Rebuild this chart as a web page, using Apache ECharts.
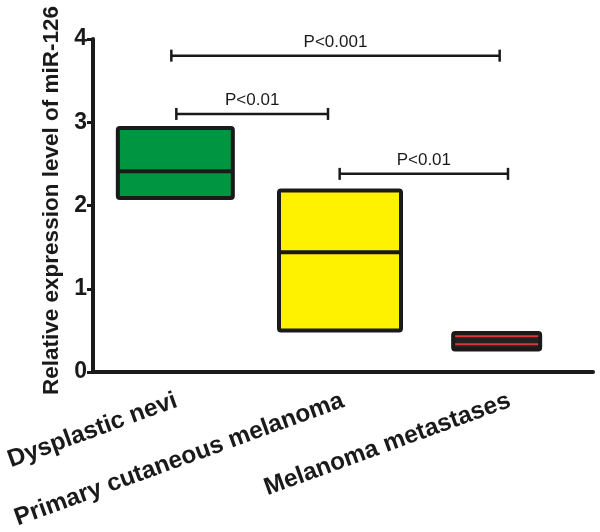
<!DOCTYPE html>
<html><head><meta charset="utf-8">
<script src="https://cdn.jsdelivr.net/npm/echarts@6/dist/echarts.min.js"></script>
<style>html,body{margin:0;padding:0;background:#fff}#c{width:600px;height:532px}</style>
</head><body><div id="c"></div>
<script>
var categories = ['Dysplastic nevi', 'Primary cutaneous melanoma', 'Melanoma metastases'];
var boxMin = [2.09, 0.50, 0.27];
var boxMedian = [2.41, 1.44, 0.38];
var boxMax = [2.93, 2.18, 0.47];
var boxColors = ['#009540', '#FFF200', '#222222'];
var yTicks = [0, 1, 2, 3, 4];
// significance brackets: start position (category index), end position, height, label
var sigStart = [-0.03, 0.0, 0.98];
var sigEnd = [1.94, 0.91, 1.99];
var sigY = [3.80, 3.10, 2.38];
var sigLabels = ['P<0.001', 'P<0.01', 'P<0.01'];

var FONT = 'Liberation Sans, Arial, sans-serif';
var boxWidths = [115, 122, 87];
var boxShift = [-1, -3, -13];

var chart = echarts.init(document.getElementById('c'), null, {renderer: 'canvas'});
chart.setOption({
  animation: false,
  grid: {left: 93, right: 7, top: 39, bottom: 158, containLabel: false},
  xAxis: {
    type: 'category', data: categories,
    axisLine: {lineStyle: {color: '#1a1a1a', width: 4}},
    axisTick: {alignWithLabel: true, length: 6, lineStyle: {color: '#1a1a1a', width: 3}},
    axisLabel: {rotate: 20, fontFamily: FONT, fontWeight: 'bold', fontSize: 24.5, color: '#1a1a1a', margin: 28, interval: 0},
    splitLine: {show: false}
  },
  yAxis: {
    type: 'value', min: 0, max: 4, interval: 1,
    name: 'Relative expression level of miR-126', nameLocation: 'middle', nameGap: 28,
    nameTextStyle: {fontFamily: FONT, fontWeight: 'bold', fontSize: 22.5, color: '#1a1a1a', padding: [0, 0, 0, 10]},
    axisLine: {show: true, lineStyle: {color: '#1a1a1a', width: 4}},
    axisTick: {show: true, length: 6, lineStyle: {color: '#1a1a1a', width: 3}},
    axisLabel: {fontFamily: FONT, fontWeight: 'bold', fontSize: 23, color: '#1a1a1a', margin: 6,
      formatter: function (v) { return yTicks.indexOf(v) >= 0 ? String(v) : ''; }},
    splitLine: {show: false}
  },
  series: [
    {
      type: 'custom',
      data: categories.map(function (c, i) { return [i, boxMin[i], boxMedian[i], boxMax[i]]; }),
      renderItem: function (params, api) {
        var i = api.value(0);
        var lo = api.coord([i, api.value(1)]);
        var md = api.coord([i, api.value(2)]);
        var hi = api.coord([i, api.value(3)]);
        var w = boxWidths[i];
        var cx = lo[0] + boxShift[i];
        var children = [
          {type: 'rect', shape: {x: cx - w / 2, y: hi[1], width: w, height: lo[1] - hi[1], r: 2},
            style: {fill: boxColors[i], stroke: '#1a1a1a', lineWidth: 4}}
        ];
        if (i === 2) {
          children.push({type: 'line', shape: {x1: cx - w / 2 + 2, y1: md[1] - 4, x2: cx + w / 2 - 2, y2: md[1] - 4},
            style: {stroke: '#D8383A', lineWidth: 2}});
          children.push({type: 'line', shape: {x1: cx - w / 2 + 2, y1: md[1] + 4, x2: cx + w / 2 - 2, y2: md[1] + 4},
            style: {stroke: '#D8383A', lineWidth: 2}});
        } else {
          children.push({type: 'line', shape: {x1: cx - w / 2, y1: md[1], x2: cx + w / 2, y2: md[1]},
            style: {stroke: '#1a1a1a', lineWidth: 4}});
        }
        return {type: 'group', children: children};
      }
    },
    {
      type: 'custom',
      data: sigLabels.map(function (l, i) { return [sigStart[i], sigEnd[i], sigY[i], i]; }),
      renderItem: function (params, api) {
        var s = api.value(0), e = api.value(1), y = api.value(2), k = api.value(3);
        var band = api.size([1, 0])[0];
        function px(v) { var r = Math.round(v); return api.coord([r, y])[0] + (v - r) * band; }
        var x1 = px(s), x2 = px(e), yy = api.coord([0, y])[1];
        return {
          type: 'group',
          children: [
            {type: 'line', shape: {x1: x1, y1: yy, x2: x2, y2: yy}, style: {stroke: '#1a1a1a', lineWidth: 2.5}},
            {type: 'line', shape: {x1: x1, y1: yy - 6, x2: x1, y2: yy + 6}, style: {stroke: '#1a1a1a', lineWidth: 2.5}},
            {type: 'line', shape: {x1: x2, y1: yy - 6, x2: x2, y2: yy + 6}, style: {stroke: '#1a1a1a', lineWidth: 2.5}},
            {type: 'text', style: {text: sigLabels[k], x: (x1 + x2) / 2, y: yy - 5, align: 'center', verticalAlign: 'bottom',
              font: '17px ' + FONT, fill: '#1a1a1a'}}
          ]
        };
      }
    }
  ]
});
</script></body></html>
